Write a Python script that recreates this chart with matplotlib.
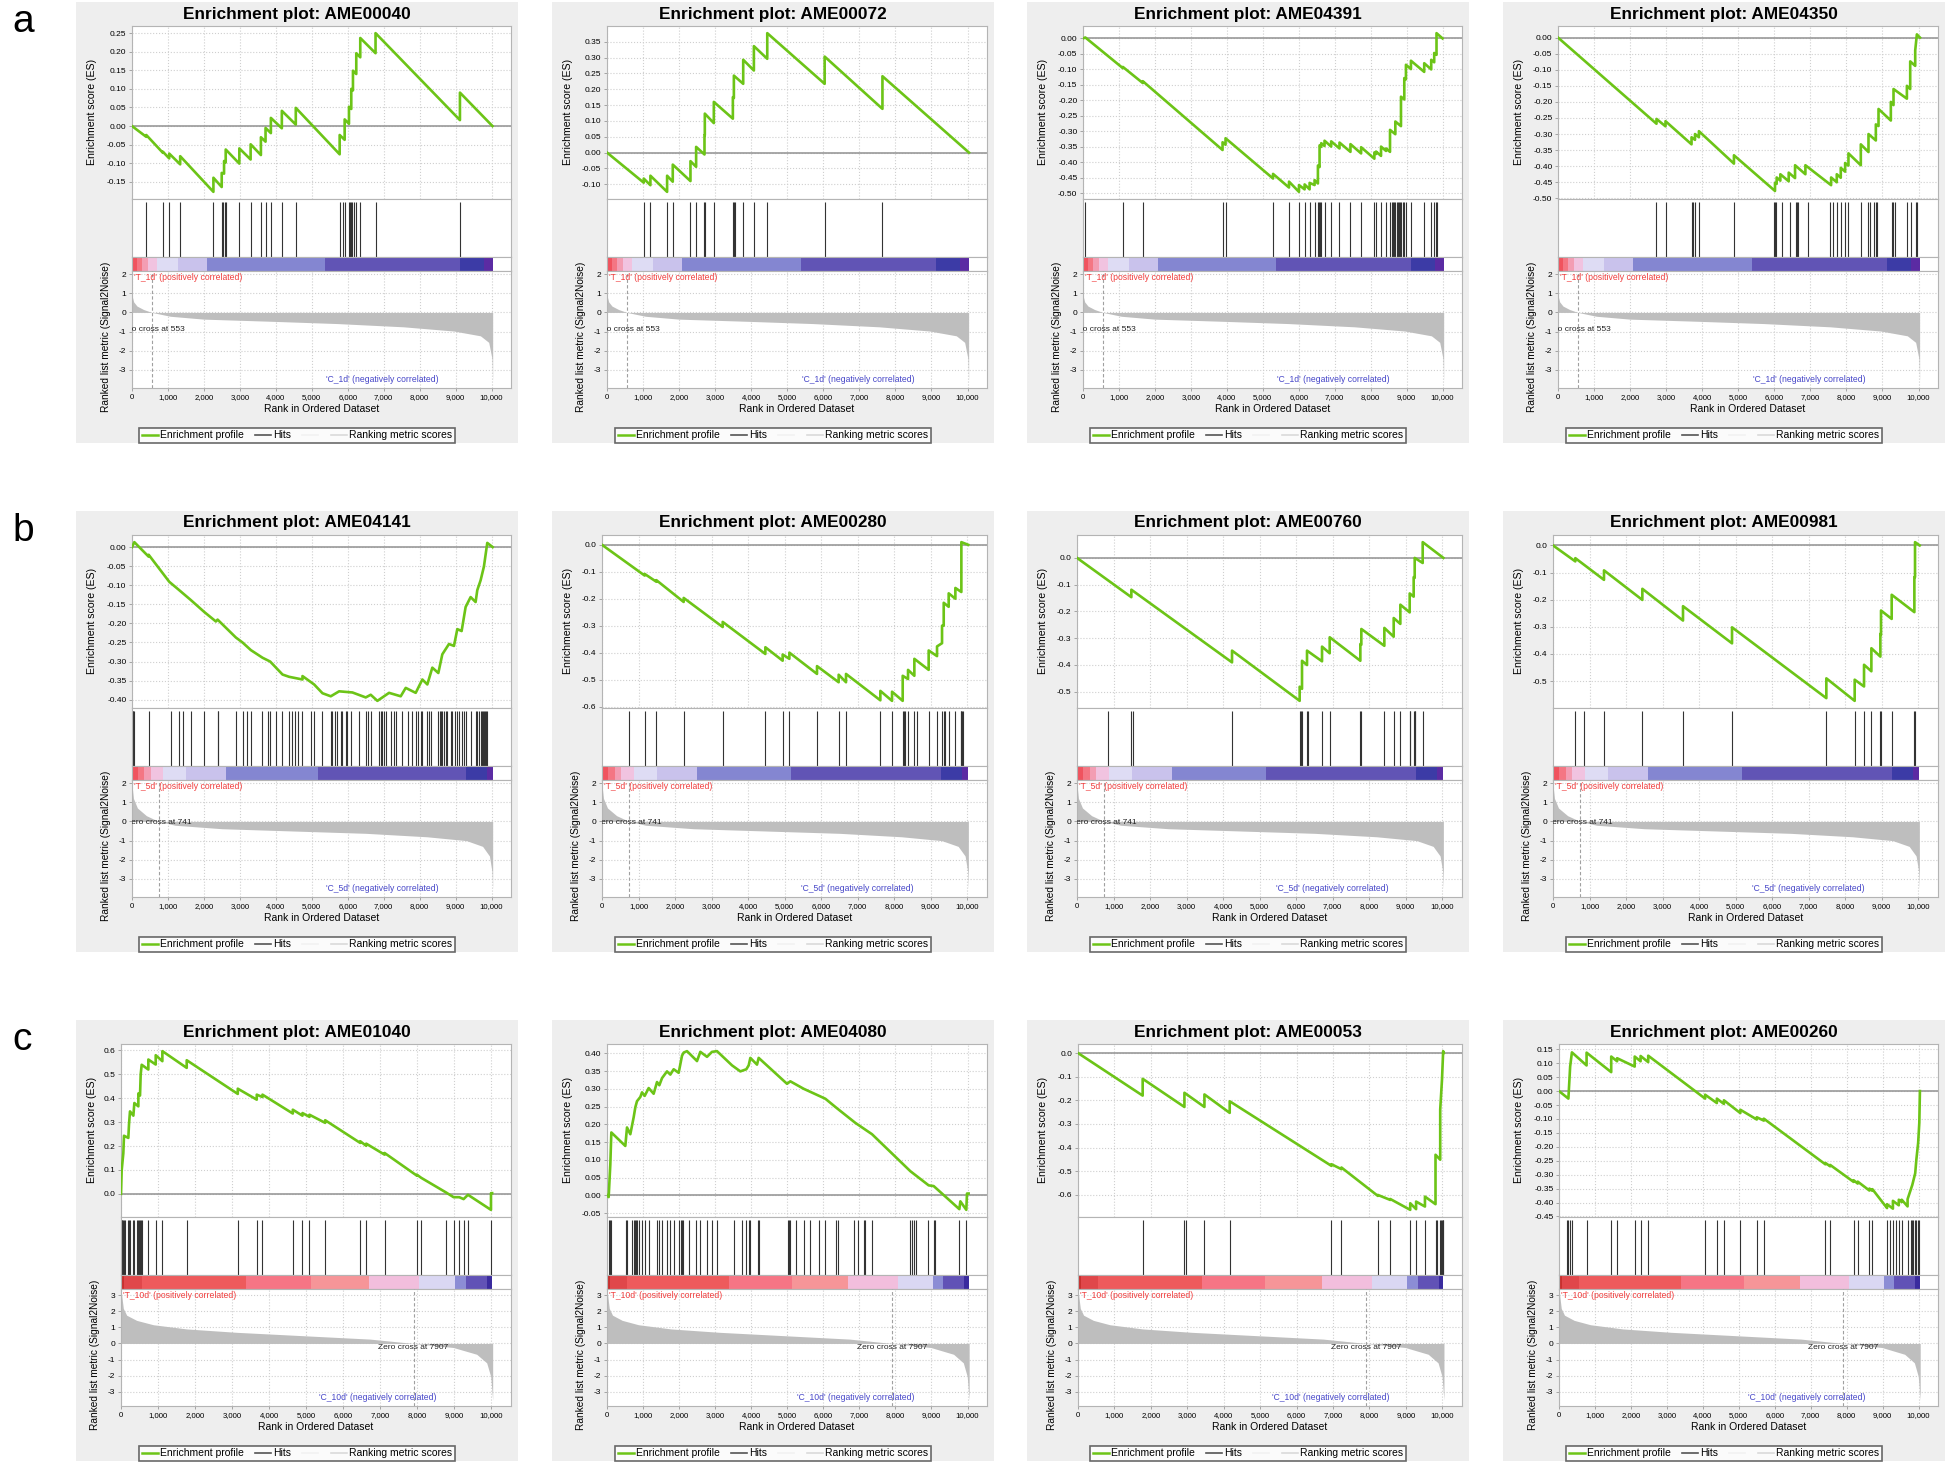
import matplotlib
matplotlib.use('Agg')
import matplotlib.pyplot as plt
from matplotlib.lines import Line2D
from matplotlib.patches import Rectangle
from matplotlib.ticker import MultipleLocator, FixedLocator, FuncFormatter, FormatStrFormatter

plt.rcParams['font.family'] = ['Liberation Sans', 'DejaVu Sans']

# ---------------- data ----------------
# running enrichment score: (rank, ES) vertices, and hit ranks per gene set
es_ame00040 = [(0, 0), (397, -0.029), (397, -0.024), (859, -0.072), (859, -0.069), (1035, -0.087), (1035, -0.074),
               (1340, -0.103), (1340, -0.081), (2264, -0.177), (2264, -0.139), (2495, -0.164), (2495, -0.126),
               (2560, -0.128), (2560, -0.094), (2606, -0.098), (2606, -0.063), (2985, -0.101), (2985, -0.060),
               (3299, -0.090), (3299, -0.049), (3585, -0.078), (3585, -0.030), (3714, -0.042), (3714, -0.005),
               (3862, -0.019), (3862, 0.022), (4167, -0.006), (4167, 0.041), (4555, 0.004), (4555, 0.049),
               (5775, -0.076), (5775, -0.024), (5914, -0.037), (5914, 0.018), (6034, 0.006), (6034, 0.052),
               (6098, 0.046), (6098, 0.100), (6145, 0.096), (6145, 0.149), (6237, 0.140), (6237, 0.196),
               (6348, 0.185), (6348, 0.237), (6773, 0.196), (6773, 0.250), (9120, 0.016), (9120, 0.090), (10025, 0)]
hits_ame00040 = [397, 859, 1035, 1340, 2264, 2495, 2541, 2588, 2615, 2985, 3299, 3585, 3714, 3862, 4167, 4555,
                 5775, 5868, 5914, 6034, 6070, 6098, 6126, 6163, 6237, 6348, 6773, 9120]

es_ame00072 = [(0, 0), (1019, -0.095), (1019, -0.082), (1204, -0.103), (1204, -0.073), (1667, -0.124), (1667, -0.073),
               (1824, -0.092), (1824, -0.038), (2315, -0.090), (2315, -0.027), (2472, -0.045), (2472, 0.018),
               (2704, -0.006), (2704, 0.055), (2713, 0.055), (2713, 0.123), (2963, 0.093), (2963, 0.160),
               (3491, 0.107), (3491, 0.175), (3519, 0.172), (3519, 0.243), (3778, 0.217), (3778, 0.293),
               (4074, 0.259), (4074, 0.336), (4445, 0.296), (4445, 0.377), (6037, 0.217), (6037, 0.303),
               (7640, 0.138), (7640, 0.241), (10040, 0)]
hits_ame00072 = [1019, 1204, 1667, 1824, 2315, 2472, 2704, 2713, 2963, 3491, 3519, 3540, 3778, 4074, 4445, 6037, 7640]

es_ame04391 = [(0, 0), (65, 0.003), (1109, -0.096), (1109, -0.092), (1663, -0.144), (1663, -0.138), (3881, -0.360),
               (3881, -0.335), (3964, -0.343), (3964, -0.322), (5285, -0.452), (5285, -0.437), (5729, -0.481),
               (5729, -0.462), (6006, -0.495), (6006, -0.473), (6163, -0.487), (6163, -0.471), (6302, -0.487),
               (6302, -0.466), (6440, -0.473), (6440, -0.457), (6533, -0.468), (6533, -0.410), (6579, -0.415),
               (6579, -0.345), (6625, -0.350), (6625, -0.338), (6717, -0.347), (6717, -0.330), (6902, -0.349),
               (6902, -0.332), (7133, -0.355), (7133, -0.336), (7438, -0.366), (7438, -0.341), (7734, -0.371),
               (7734, -0.351), (8103, -0.388), (8103, -0.368), (8150, -0.373), (8150, -0.365), (8288, -0.379),
               (8288, -0.349), (8427, -0.363), (8427, -0.355), (8538, -0.366), (8538, -0.295), (8686, -0.309),
               (8686, -0.268), (8843, -0.283), (8843, -0.188), (8935, -0.197), (8935, -0.128), (8981, -0.132),
               (8981, -0.085), (9120, -0.099), (9120, -0.072), (9489, -0.108), (9489, -0.080), (9684, -0.100),
               (9684, -0.069), (9767, -0.077), (9767, -0.047), (9831, -0.053), (9831, 0.017), (9998, 0)]
hits_ame04391 = [65, 1109, 1663, 3881, 3964, 5285, 5729, 6006, 6163, 6302, 6440, 6533, 6551, 6579, 6625, 6717, 6902,
                 7133, 7438, 7734, 8103, 8150, 8288, 8427, 8538, 8585, 8612, 8658, 8686, 8723, 8750, 8778, 8815,
                 8843, 8889, 8935, 8981, 9120, 9489, 9684, 9767, 9813, 9831]

es_ame04350 = [(0, 0), (2732, -0.268), (2732, -0.253), (2982, -0.276), (2982, -0.260), (3704, -0.332), (3704, -0.310),
               (3800, -0.318), (3800, -0.300), (3908, -0.310), (3908, -0.291), (4880, -0.392), (4880, -0.366),
               (6019, -0.477), (6019, -0.452), (6065, -0.455), (6065, -0.435), (6167, -0.445), (6167, -0.425),
               (6399, -0.447), (6399, -0.420), (6575, -0.437), (6575, -0.397), (6862, -0.425), (6862, -0.397),
               (7575, -0.459), (7575, -0.435), (7732, -0.450), (7732, -0.425), (7843, -0.436), (7843, -0.405),
               (7964, -0.417), (7964, -0.390), (8056, -0.398), (8056, -0.360), (8399, -0.397), (8399, -0.332),
               (8612, -0.356), (8612, -0.300), (8816, -0.320), (8816, -0.270), (8890, -0.275), (8890, -0.222),
               (9232, -0.258), (9232, -0.200), (9306, -0.210), (9306, -0.160), (9677, -0.190), (9677, -0.150),
               (9769, -0.160), (9769, -0.074), (9908, -0.088), (9908, -0.040), (9954, 0.010), (10040, 0)]
hits_ame04350 = [2732, 2982, 3704, 3750, 3797, 3908, 4880, 5991, 6019, 6047, 6204, 6436, 6602, 6639, 6667, 6926,
                 7547, 7640, 7732, 7843, 7964, 8056, 8399, 8612, 8658, 8770, 8816, 8843, 9269, 9297, 9334, 9667,
                 9778, 9917, 9945]

es_ame04141 = [(0, 0), (65, 0.013), (463, -0.025), (463, -0.020), (1037, -0.091), (1315, -0.113), (1639, -0.139),
               (2009, -0.170), (2334, -0.195), (2380, -0.190), (2889, -0.237), (3074, -0.250), (3306, -0.270),
               (3630, -0.290), (3843, -0.300), (4186, -0.334), (4371, -0.340), (4741, -0.347), (4741, -0.338),
               (5065, -0.360), (5297, -0.383), (5528, -0.391), (5760, -0.378), (6130, -0.381), (6500, -0.394),
               (6639, -0.387), (6824, -0.403), (7149, -0.382), (7473, -0.391), (7612, -0.369), (7890, -0.382),
               (8075, -0.347), (8213, -0.360), (8352, -0.316), (8519, -0.330), (8630, -0.281), (8815, -0.254),
               (8954, -0.259), (9047, -0.215), (9167, -0.220), (9278, -0.157), (9417, -0.131), (9556, -0.144),
               (9602, -0.113), (9695, -0.087), (9787, -0.051), (9880, 0.011), (10030, 0)]
hits_ame04141 = [19, 37, 65, 463, 1083, 1315, 1408, 1639, 2009, 2380, 2398, 2889, 3074, 3185, 3306, 3611, 3787,
                 3843, 4000, 4167, 4371, 4463, 4537, 4630, 4741, 4973, 5065, 5278, 5528, 5575, 5649, 5713, 5806,
                 5852, 5945, 5991, 6084, 6315, 6500, 6575, 6639, 6871, 6917, 6963, 7010, 7075, 7195, 7288, 7352,
                 7519, 7686, 7778, 7890, 7964, 8028, 8075, 8214, 8260, 8306, 8519, 8556, 8584, 8630, 8676, 8723,
                 8769, 8862, 8908, 8982, 9047, 9093, 9167, 9232, 9297, 9417, 9556, 9602, 9649, 9695, 9723, 9760,
                 9788, 9816, 9853, 9880]

es_ame00280 = [(0, 0), (1168, -0.114), (1168, -0.108), (1488, -0.137), (1488, -0.131), (2236, -0.212), (2236, -0.197),
               (3304, -0.305), (3304, -0.286), (4472, -0.405), (4472, -0.380), (4946, -0.430), (4946, -0.407),
               (5129, -0.423), (5129, -0.400), (5886, -0.479), (5886, -0.450), (6479, -0.510), (6479, -0.482),
               (6680, -0.510), (6680, -0.479), (7620, -0.577), (7620, -0.542), (7940, -0.579), (7940, -0.545),
               (8232, -0.579), (8232, -0.486), (8378, -0.498), (8378, -0.464), (8551, -0.486), (8551, -0.423),
               (8943, -0.464), (8943, -0.392), (9172, -0.413), (9172, -0.377), (9309, -0.365), (9309, -0.300),
               (9355, -0.300), (9355, -0.215), (9491, -0.230), (9491, -0.180), (9674, -0.200), (9674, -0.160),
               (9838, -0.175), (9838, 0.010), (10027, 0)]
hits_ame00280 = [748, 1168, 1488, 2236, 3304, 4472, 4946, 5129, 5886, 6479, 6680, 7620, 7940, 8232, 8259, 8286,
                 8378, 8551, 8624, 8943, 9172, 9309, 9355, 9382, 9491, 9655, 9820, 9838, 9856, 9874]

es_ame00760 = [(0, 0), (1488, -0.147), (1488, -0.119), (4244, -0.391), (4244, -0.347), (6096, -0.535), (6096, -0.482),
               (6160, -0.490), (6160, -0.385), (6297, -0.401), (6297, -0.347), (6708, -0.387), (6708, -0.332),
               (6918, -0.357), (6918, -0.297), (7757, -0.385), (7757, -0.322), (7784, -0.325), (7784, -0.266),
               (8414, -0.329), (8414, -0.262), (8670, -0.295), (8670, -0.225), (8852, -0.247), (8852, -0.175),
               (9108, -0.204), (9108, -0.133), (9217, -0.145), (9217, -0.072), (9245, -0.075), (9245, 0.0),
               (9464, -0.019), (9464, 0.059), (10030, 0)]
hits_ame00760 = [849, 1488, 1524, 4244, 6096, 6133, 6160, 6297, 6324, 6708, 6918, 7757, 7784, 8414, 8670, 8852,
                 9108, 9126, 9217, 9245, 9263, 9464]

es_ame00981 = [(0, 0), (611, -0.059), (611, -0.047), (1396, -0.127), (1396, -0.092), (2446, -0.201), (2446, -0.160),
               (3559, -0.277), (3559, -0.224), (4901, -0.361), (4901, -0.302), (7483, -0.563), (7483, -0.490),
               (8259, -0.573), (8259, -0.495), (8515, -0.520), (8515, -0.440), (8716, -0.464), (8716, -0.379),
               (8962, -0.410), (8962, -0.326), (8980, -0.330), (8980, -0.240), (9272, -0.271), (9272, -0.182),
               (9893, -0.246), (9893, -0.117), (9911, -0.117), (9911, 0.012), (10039, 0)]
hits_ame00981 = [611, 840, 1396, 2446, 3559, 4901, 7483, 8259, 8515, 8716, 8962, 8980, 9272, 9893, 9911]

es_ame01040 = [(0, 0), (18, 0.098), (63, 0.170), (81, 0.243), (198, 0.234), (216, 0.290), (243, 0.345), (334, 0.327),
               (361, 0.380), (469, 0.366), (469, 0.420), (514, 0.411), (532, 0.500), (559, 0.540), (739, 0.520),
               (739, 0.562), (938, 0.541), (938, 0.580), (1118, 0.555), (1118, 0.597), (1776, 0.527), (1776, 0.559),
               (3156, 0.418), (3156, 0.440), (3669, 0.394), (3669, 0.415), (3823, 0.405), (3823, 0.415),
               (4643, 0.336), (4643, 0.352), (4905, 0.327), (4905, 0.338), (5094, 0.322), (5094, 0.331),
               (5518, 0.297), (5518, 0.308), (6465, 0.213), (6465, 0.220), (6627, 0.201), (6627, 0.210),
               (7123, 0.164), (7123, 0.171), (7997, 0.076), (7997, 0.080), (8114, 0.067), (8782, 0.006),
               (8989, -0.014), (9142, -0.014), (9259, -0.022), (9377, -0.004), (9999, -0.067), (9999, 0.003),
               (10030, 0.003)]
hits_ame01040 = [18, 36, 63, 81, 108, 198, 216, 243, 334, 361, 424, 469, 496, 514, 532, 559, 739, 938, 1118, 1776,
                 3156, 3669, 3823, 4643, 4905, 5094, 5518, 6465, 6627, 7123, 7997, 8114, 8782, 8989, 9142, 9259,
                 9377, 9999]

es_ame04080 = [(0, 0), (46, -0.005), (92, 0.087), (120, 0.177), (508, 0.139), (555, 0.191), (647, 0.172),
               (740, 0.220), (786, 0.248), (832, 0.265), (925, 0.277), (971, 0.290), (1045, 0.280), (1156, 0.302),
               (1294, 0.286), (1387, 0.319), (1452, 0.310), (1526, 0.330), (1664, 0.349), (1757, 0.340),
               (1849, 0.355), (1988, 0.345), (2080, 0.393), (2127, 0.402), (2219, 0.406), (2478, 0.380),
               (2496, 0.378), (2589, 0.404), (2774, 0.390), (2912, 0.404), (3051, 0.406), (3467, 0.366),
               (3698, 0.349), (3865, 0.355), (3930, 0.366), (3976, 0.387), (4161, 0.368), (4207, 0.387),
               (4993, 0.314), (5085, 0.321), (5455, 0.300), (6056, 0.272), (6380, 0.245), (6888, 0.204),
               (7351, 0.172), (8413, 0.068), (8922, 0.028), (9061, 0.026), (9773, -0.039), (9801, -0.017),
               (9966, -0.041), (9985, 0.005), (10030, 0.005)]
hits_ame04080 = [65, 92, 120, 527, 555, 693, 740, 767, 804, 832, 897, 971, 1045, 1174, 1387, 1452, 1526, 1664,
                 1757, 1849, 1988, 2062, 2080, 2108, 2265, 2478, 2589, 2774, 2912, 3051, 3514, 3745, 3865, 3930,
                 3976, 4180, 4207, 5011, 5039, 5067, 5252, 5455, 5622, 5871, 6056, 6352, 6407, 6842, 6962, 7119,
                 7166, 7351, 8413, 8459, 8505, 8570, 8894, 9061, 9107, 9773, 9966]

es_ame00053 = [(0, 0), (1775, -0.180), (1775, -0.109), (2921, -0.228), (2921, -0.168), (3470, -0.228), (3470, -0.175),
               (4164, -0.253), (4164, -0.204), (6956, -0.477), (6956, -0.470), (7231, -0.491), (7231, -0.484),
               (8231, -0.604), (8231, -0.600), (8570, -0.621), (8570, -0.617), (9119, -0.663), (9119, -0.635),
               (9280, -0.660), (9280, -0.628), (9523, -0.649), (9523, -0.607), (9813, -0.639), (9813, -0.430),
               (9942, -0.451), (9942, -0.239), (9991, -0.112), (10023, 0.008), (10040, 0)]
hits_ame00053 = [1775, 2921, 2953, 3470, 4164, 6956, 7231, 8231, 8570, 9119, 9280, 9523, 9813, 9846, 9942, 9975,
                 9991, 10007, 10023]

es_ame00260 = [(0, 0), (261, -0.027), (310, 0.088), (359, 0.139), (767, 0.092), (767, 0.138), (1452, 0.068),
               (1452, 0.124), (1616, 0.107), (1616, 0.118), (2105, 0.088), (2105, 0.124), (2269, 0.107),
               (2269, 0.126), (2481, 0.104), (2481, 0.127), (4064, -0.027), (4064, -0.013), (4390, -0.043),
               (4390, -0.027), (4586, -0.046), (4586, -0.033), (5043, -0.079), (5043, -0.067), (5500, -0.102),
               (5500, -0.094), (5696, -0.106), (5696, -0.099), (7409, -0.263), (7409, -0.258), (7540, -0.270),
               (7540, -0.265), (8193, -0.326), (8193, -0.320), (8307, -0.332), (8307, -0.325), (8633, -0.357),
               (8633, -0.350), (8715, -0.358), (8715, -0.352), (9123, -0.420), (9123, -0.406), (9286, -0.422),
               (9286, -0.394), (9450, -0.410), (9450, -0.390), (9531, -0.398), (9531, -0.390), (9694, -0.414),
               (9694, -0.388), (9825, -0.337), (9906, -0.295), (9939, -0.245), (9988, -0.186), (10020, -0.114),
               (10037, 0)]
hits_ame00260 = [228, 261, 310, 359, 767, 1452, 1616, 2105, 2269, 2481, 4064, 4390, 4586, 5043, 5500, 5696, 7409,
                 7540, 8193, 8307, 8633, 8715, 9123, 9205, 9286, 9368, 9450, 9531, 9694, 9776, 9825, 9857, 9906,
                 9939, 9988, 10020]

# ranked list metric (Signal2Noise) per time point
metric_rank_1d = [0, 46, 139, 324, 553, 1066, 2000, 3850, 5700, 7550, 8950, 9690, 9920, 10010, 10030]
metric_val_1d = [0.90, 0.55, 0.33, 0.15, 0.0, -0.20, -0.35, -0.46, -0.58, -0.75, -0.97, -1.22, -1.56, -2.40, -3.55]
metric_rank_5d = [0, 40, 150, 400, 741, 1200, 2500, 4500, 6500, 8200, 9300, 9750, 9940, 10010, 10030]
metric_val_5d = [1.90, 1.20, 0.70, 0.30, 0.0, -0.20, -0.38, -0.50, -0.62, -0.80, -1.00, -1.30, -1.80, -2.60, -3.50]
metric_rank_10d = [0, 18, 63, 153, 423, 874, 1775, 3126, 4928, 6730, 7907, 8982, 9613, 9883, 9991, 10045]
metric_val_10d = [3.10, 3.00, 2.17, 1.75, 1.43, 1.16, 0.90, 0.69, 0.48, 0.27, 0.0, -0.25, -0.67, -1.20, -2.04, -3.50]

zero_cross = [553, 741, 7907]
phenotypes = ['1d', '5d', '10d']

# heat-map bar under the hits: block edges (rank) and block colours
cbar_edges_1d = [0, 139, 278, 436, 695, 1270, 2086, 5377, 9113, 9780, 10030]
cbar_edges_5d = [0, 158, 343, 528, 871, 1502, 2614, 5182, 9289, 9863, 10030]
cbar_edges_10d = [0, 92, 559, 3390, 5140, 6690, 8060, 9040, 9330, 9900, 10030]
cbar_colors_neg = ['#F0535E', '#F47683', '#F39DB3', '#F1C3E0', '#DEDCF4', '#C9C2EC', '#8486D1', '#6154B5',
                   '#3C3BA6', '#5B2BA3']
cbar_colors_pos = ['#C8302E', '#E0474A', '#EE5A5C', '#F67585', '#F69598', '#F2BEDD', '#DAD7F3', '#8C8DD5',
                   '#6152B6', '#3A2B9E']

panels = [
    ['AME00040', es_ame00040, hits_ame00040, 0.05],
    ['AME00072', es_ame00072, hits_ame00072, 0.05],
    ['AME04391', es_ame04391, hits_ame04391, 0.05],
    ['AME04350', es_ame04350, hits_ame04350, 0.05],
    ['AME04141', es_ame04141, hits_ame04141, 0.05],
    ['AME00280', es_ame00280, hits_ame00280, 0.1],
    ['AME00760', es_ame00760, hits_ame00760, 0.1],
    ['AME00981', es_ame00981, hits_ame00981, 0.1],
    ['AME01040', es_ame01040, hits_ame01040, 0.1],
    ['AME04080', es_ame04080, hits_ame04080, 0.05],
    ['AME00053', es_ame00053, hits_ame00053, 0.1],
    ['AME00260', es_ame00260, hits_ame00260, 0.05],
]
row_metric = [(metric_rank_1d, metric_val_1d), (metric_rank_5d, metric_val_5d), (metric_rank_10d, metric_val_10d)]
row_cbar = [(cbar_edges_1d, cbar_colors_neg), (cbar_edges_5d, cbar_colors_neg), (cbar_edges_10d, cbar_colors_pos)]

# ---------------- layout (pixels) ----------------
W, H = 1946, 1464
col_x = [76, 552, 1027, 1503]
row_y = [2, 511, 1020]
left_off = [56, 55, 56, 55, 56, 50, 50, 50, 45, 55, 51, 56]
# ES axis range: automatic except where the original axis stops exactly at a tick
es_ylim = {3: (-0.502, 0.036), 11: (-0.452, 0.169)}
metric_ylim = [(-3.94, 2.16), (-3.94, 2.16), (-3.875, 3.375)]
zc_label_y = [-0.88, -0.08, -0.25]
XMAX = 10540

GREEN = '#6CC417'
SPINE = '#B4B4B4'
GRID = '#CFCFCF'

fig = plt.figure(figsize=(W / 100, H / 100), dpi=100)
fig.patch.set_facecolor('white')


def rect(x, y, w, h):
    return [x / W, 1 - (y + h) / H, w / W, h / H]


def style_axes(ax):
    for s in ax.spines.values():
        s.set_color(SPINE)
        s.set_linewidth(0.8)
    ax.tick_params(length=2, width=0.6, color='#999999', labelsize=6, pad=2)


def draw_panel(i):
    name, es, hits, step = panels[i]
    r, c = divmod(i, 4)
    L, T = col_x[c], row_y[r]
    fig.patches.append(Rectangle((L / W, 1 - (T + 441) / H), 442 / W, 441 / H, transform=fig.transFigure,
                                 facecolor='#EEEEEE', edgecolor='none', zorder=-5))
    x0 = L + left_off[i]
    w = L + 435 - x0

    # enrichment score
    ax = fig.add_axes(rect(x0, T + 24, w, 173))
    style_axes(ax)
    ax.axhline(0, color='#999999', lw=1.2, zorder=1)
    ax.plot([p[0] for p in es], [p[1] for p in es], color=GREEN, lw=1.9, zorder=3)
    ax.set_xlim(0, XMAX)
    ax.margins(y=0.045)
    if i in es_ylim:
        ax.set_ylim(*es_ylim[i])
    ax.yaxis.set_major_locator(MultipleLocator(step))
    ax.yaxis.set_major_formatter(FormatStrFormatter('%.2f' if step < 0.1 else '%.1f'))
    ax.xaxis.set_major_locator(FixedLocator(range(0, 10001, 1000)))
    ax.tick_params(axis='x', bottom=False, labelbottom=False)
    ax.grid(color=GRID, ls=':', lw=0.8)
    ax.set_axisbelow(True)

    # hits
    axh = fig.add_axes(rect(x0, T + 197, w, 58))
    style_axes(axh)
    axh.vlines(hits, 0, 0.95, color='#333333', lw=0.8)
    axh.set_xlim(0, XMAX)
    axh.set_ylim(0, 1)
    axh.set_xticks([])
    axh.set_yticks([])

    # heat-map bar
    edges, colors = row_cbar[r]
    axb = fig.add_axes(rect(x0, T + 255, w, 14))
    style_axes(axb)
    axb.barh(0, [b - a for a, b in zip(edges[:-1], edges[1:])], left=edges[:-1], height=1,
             color=colors, linewidth=0)
    axb.set_xlim(0, XMAX)
    axb.set_ylim(-0.5, 0.5)
    axb.set_xticks([])
    axb.set_yticks([])

    # ranked list metric
    mr, mv = row_metric[r]
    axm = fig.add_axes(rect(x0, T + 269, w, 117))
    style_axes(axm)
    axm.fill_between(mr, mv, 0, color='#BEBEBE', lw=0, zorder=2)
    axm.set_xlim(0, XMAX)
    axm.set_ylim(*metric_ylim[r])
    axm.yaxis.set_major_locator(MultipleLocator(1))
    axm.yaxis.set_major_formatter(FormatStrFormatter('%d'))
    axm.xaxis.set_major_locator(FixedLocator(range(0, 10001, 1000)))
    axm.xaxis.set_major_formatter(FuncFormatter(lambda v, p: f'{int(v):,}'))
    axm.tick_params(axis='x', labelsize=5.6)
    axm.grid(color=GRID, ls=':', lw=0.8)
    axm.set_axisbelow(True)
    zc = zero_cross[r]
    axm.axvline(zc, color='#A0A0A0', ls=(0, (3, 2)), lw=0.8, zorder=3)
    axm.text(zc, zc_label_y[r], f'Zero cross at {zc}', ha='center', va='center', fontsize=6,
             color='#222222', clip_on=True, zorder=4)
    ph = phenotypes[r]
    axm.text(0.006, 0.985, f"'T_{ph}' (positively correlated)", transform=axm.transAxes, ha='left', va='top',
             fontsize=6.2, color='#F03C3C', zorder=4)
    axm.text(0.81, 0.075, f"'C_{ph}' (negatively correlated)", transform=axm.transAxes, ha='right',
             va='center', fontsize=6.2, color='#4646C8', zorder=4)
    axm.set_xlabel('Rank in Ordered Dataset', fontsize=7.5, labelpad=2.5)

    # labels and title
    fig.text((L + 16) / W, 1 - (T + 110) / H, 'Enrichment score (ES)', rotation=90, ha='center', va='center',
             fontsize=7.6)
    fig.text((L + left_off[i] - 26) / W, 1 - (T + 335) / H, 'Ranked list metric (Signal2Noise)', rotation=90,
             ha='center', va='center', fontsize=7.3)
    fig.text((L + 221) / W, 1 - (T + 12) / H, f'Enrichment plot: {name}', ha='center', va='center',
             fontsize=12.4, fontweight='bold')

    handles = [Line2D([], [], color=GREEN, lw=1.8), Line2D([], [], color='#555555', lw=1.2),
               Line2D([], [], color='#F2F2F2', lw=1.2), Line2D([], [], color='#DADADA', lw=1.2)]
    labels = ['Enrichment profile', 'Hits', '', 'Ranking metric scores']
    leg = fig.legend(handles, labels, loc='lower center', bbox_to_anchor=((L + 221) / W, 1 - (T + 441) / H),
                     ncol=4, fontsize=7.5, frameon=True, fancybox=False, borderpad=0.25, handlelength=1.5,
                     handletextpad=0.2, columnspacing=1.1, borderaxespad=0)
    leg.get_frame().set_edgecolor('#444444')
    leg.get_frame().set_linewidth(1.2)


for i in range(len(panels)):
    draw_panel(i)

for lab, y in zip(['a', 'b', 'c'], row_y):
    fig.text(12 / W, 1 - (y + 20) / H, lab, fontsize=28, ha='left', va='center')

fig.savefig('out.png', dpi=100)
